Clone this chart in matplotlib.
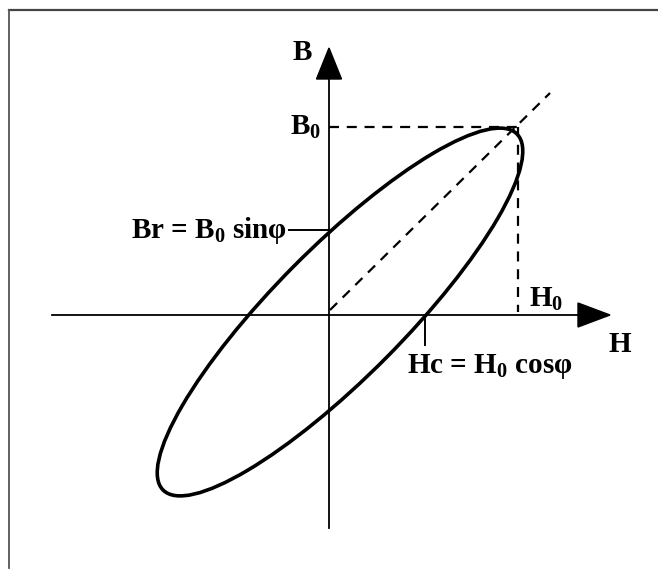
#!/usr/bin/env python3
"""
B-H loop sketch: elliptical hysteresis loop with Br and Hc marked.
"""

import matplotlib.pyplot as plt
from matplotlib.patches import Ellipse, Polygon

plt.rcParams["font.family"] = ["Liberation Serif", "DejaVu Serif"]
plt.rcParams["font.weight"] = "bold"
plt.rcParams["mathtext.fontset"] = "custom"
plt.rcParams["mathtext.rm"] = "Liberation Serif:bold"
plt.rcParams["mathtext.it"] = "Liberation Serif:bold"
plt.rcParams["mathtext.bf"] = "Liberation Serif:bold"

# peak values and the two axis crossings (drawing units, origin at axis crossing)
H0 = 189
B0 = 188
Hc = 96
Br = 85

# loop (ellipse)
loop_center = (11, 3)
loop_width = 502
loop_height = 130
loop_angle = 45.2

# labels
label_B = "B"
label_H = "H"
label_B0 = r"B$_0$"
label_H0 = r"H$_0$"
label_Br = r"Br = B$_0$ sin$\varphi$"
label_Hc = r"Hc = H$_0$ cos$\varphi$"

fig = plt.figure(figsize=(6.58, 5.71), dpi=100)
ax = fig.add_axes([0, 0, 1, 1])
ax.set_xlim(-329, 329)
ax.set_ylim(-256, 315)
ax.axis("off")

# frame (right side falls off the scan)
ax.plot([-320, 340], [305, 305], color="#444444", lw=1.6)
ax.plot([-320, -320], [-253, 305], color="#555555", lw=1.3)

# axes with filled arrow heads
ax.plot([0, 0], [-213, 240], color="black", lw=1.3)
ax.plot([-277, 252], [0, 0], color="black", lw=1.3)
ax.add_patch(Polygon([(0, 267), (-12.5, 236), (12.5, 236)], closed=True, color="black"))
ax.add_patch(Polygon([(281, 0), (249, 12), (249, -12)], closed=True, color="black"))

# dashed guides
dash = dict(color="black", lw=1.6, ls=(0, (4.5, 3.5)))
ax.plot([0, H0], [B0, B0], **dash)
ax.plot([H0, H0], [B0, 3], **dash)
ax.plot([1, 221], [5, 222], **dash)

# loop
loop = Ellipse(loop_center, loop_width, loop_height, angle=loop_angle,
               fill=False, edgecolor="black", lw=2.6)
ax.add_patch(loop)

# Br and Hc ticks
ax.plot([-40, 0], [Br, Br], color="black", lw=1.4)
ax.plot([Hc, Hc], [0, -30], color="black", lw=1.4)

# text
ax.text(-27, 262, label_B, fontsize=21, ha="center", va="center")
ax.text(291, -30, label_H, fontsize=21, ha="center", va="center")
ax.text(-8, B0 - 8, label_B0, fontsize=21, ha="right", va="baseline")
ax.text(200, 8, label_H0, fontsize=21, ha="left", va="baseline")
ax.text(-42, Br - 8, label_Br, fontsize=21, ha="right", va="baseline")
ax.text(78, -58, label_Hc, fontsize=21, ha="left", va="baseline")

plt.savefig("out.png", dpi=100, facecolor="white")
